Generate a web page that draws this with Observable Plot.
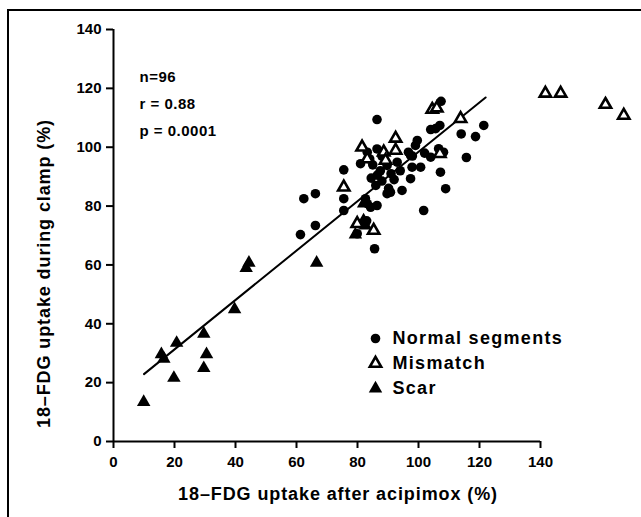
<!DOCTYPE html>
<html>
<head>
<meta charset="utf-8">
<script src="https://cdn.jsdelivr.net/npm/d3@7"></script>
<script src="https://cdn.jsdelivr.net/npm/@observablehq/plot@0.6"></script>
<style>
  html, body { margin: 0; padding: 0; background: #fff; }
  #wrap { position: relative; width: 641px; height: 517px; overflow: hidden; }
  #bt { position: absolute; left: 7px; top: 9px; width: 634px; height: 2px; background: #000; }
  #bl { position: absolute; left: 7px; top: 9px; width: 2px; height: 508px; background: #000; }
</style>
</head>
<body>
<div id="wrap"><div id="chart"></div><div id="bt"></div><div id="bl"></div></div>
<script>
// ---- data ----
const normalX = [107.4,104,105.6,107,86.4,99.6,99,86.4,106.6,108.2,83.2,81,89.7,93,97.4,96.7,97.9,100.7,97.4,104,107.2,108.9,101.7,75.5,75.5,75.5,66.2,62.4,66.2,61.3,84.5,86.5,87.5,90.2,89.7,90.8,94.6,82.6,83.2,86.4,84.3,80.4,79.9,85.6,114,118.7,121.4,115.7,84,88,91,94,86,88,83,98,102,92,85];
const normalY = [115.6,106,106.3,107.4,109.4,102.3,100.6,99.4,99.5,98.3,98.3,94.4,93.8,94.9,97.2,98.3,93.2,93.2,89.3,96.6,91.5,85.9,78.5,92.3,82.5,78.5,84.2,82.5,73.4,70.3,89.5,90.5,92,86,84.2,84.7,85.3,82.5,80.8,80.2,79.6,74,70.6,65.5,104.5,103.6,107.4,96.5,96,97,91,92,87,88.5,75,97,98,89,94];
const mismatchX = [92.5,81.5,92.5,88.6,83.2,89.2,75.5,85.3,79.9,107,104.5,106,113.8,141.6,146.6,161.3,167.3];
const mismatchY = [103,100,98.9,98.3,96,95.5,86.4,71.7,74,97.8,112.8,113.3,109.7,118.3,118.3,114.5,110.8];
const scarX = [9.9,15.7,16.5,20.7,19.8,29.6,30.5,29.6,39.7,44.4,43.5,66.6,82,82,82.6,79.3];
const scarY = [13.4,29.6,28.1,33.5,21.6,36.6,29.6,24.9,44.9,60.7,58.9,60.7,80.8,75.1,73.4,70.3];
const fitX = [10, 122];
const fitY = [22.9, 116.9];
const xTicks = [0,20,40,60,80,100,120,140];
const yTicks = [0,20,40,60,80,100,120,140];
const statsLines = ["n=96", "r = 0.88", "p = 0.0001"];
const legendLabels = ["Normal segments", "Mismatch", "Scar"];
const xLabel = "18\u2013FDG uptake after acipimox (%)";
const yLabel = "18\u2013FDG uptake during clamp (%)";

// ---- build tables ----
const normal = normalX.map((x, i) => ({x, y: normalY[i]}));
const mismatch = mismatchX.map((x, i) => ({x, y: mismatchY[i]}));
const scar = scarX.map((x, i) => ({x, y: scarY[i]}));
const fit = fitX.map((x, i) => ({x, y: fitY[i]}));

const legendStyles = [
  {symbol: "circle", fill: "black", stroke: "none", r: 4.8, strokeWidth: 0},
  {symbol: "triangle", fill: "white", stroke: "black", r: 4.2, strokeWidth: 2.6},
  {symbol: "triangle", fill: "black", stroke: "none", r: 5, strokeWidth: 0}
];

const legendMarks = legendLabels.flatMap((lab, i) => [
  Plot.dot([lab], {frameAnchor: "top-left", dx: 262, dy: 309 + 25 * i, ...legendStyles[i]}),
  Plot.text([lab], {frameAnchor: "top-left", dx: 279, dy: 309 + 25 * i, text: d => d, textAnchor: "start", lineAnchor: "middle", fontSize: 18, fontWeight: "bold"})
]);

const chart = Plot.plot({
  width: 641,
  height: 517,
  marginLeft: 113,
  marginRight: 101,
  marginTop: 29,
  marginBottom: 76,
  style: {fontFamily: "'Liberation Sans', Arial, sans-serif", fontWeight: "bold", fontSize: "15px", color: "black", background: "white", overflow: "visible"},
  x: {domain: [0, 140]},
  y: {domain: [0, 140]},
  marks: [
    Plot.axisX({ticks: xTicks, tickSize: 7, tickPadding: 8, strokeWidth: 2, fontSize: 15, label: null}),
    Plot.axisY({ticks: yTicks, tickSize: 7, tickPadding: 5, strokeWidth: 2, fontSize: 15, label: null}),
    Plot.ruleY([0], {strokeWidth: 2}),
    Plot.ruleX([0], {strokeWidth: 2}),
    Plot.line(fit, {x: "x", y: "y", stroke: "black", strokeWidth: 2}),
    Plot.dot(normal, {x: "x", y: "y", symbol: "circle", r: 4.8, fill: "black"}),
    Plot.dot(scar, {x: "x", y: "y", symbol: "triangle", r: 5, fill: "black"}),
    Plot.dot(mismatch, {x: "x", y: "y", symbol: "triangle", r: 4.2, fill: "white", stroke: "black", strokeWidth: 2.6}),
    Plot.text([statsLines.join("\n")], {frameAnchor: "top-left", dx: 26, dy: 33, text: d => d, textAnchor: "start", lineAnchor: "top", lineHeight: 1.8, fontSize: 15, fontWeight: "bold"}),
    Plot.text([xLabel], {frameAnchor: "bottom", dx: 11, dy: 53, text: d => d, textAnchor: "middle", lineAnchor: "middle", fontSize: 18, fontWeight: "bold"}),
    Plot.text([yLabel], {frameAnchor: "left", dx: -69, dy: 38, rotate: -90, text: d => d, textAnchor: "middle", lineAnchor: "middle", fontSize: 18, fontWeight: "bold"}),
    ...legendMarks
  ]
});

// letter spacing for the wide, scanned-looking type
const spacing = new Map([[xLabel, "0.9"], [yLabel, "0.9"], [legendLabels[0], "1.3"], [legendLabels[1], "1.3"], [legendLabels[2], "1.3"]]);
chart.querySelectorAll("text").forEach(t => {
  const s = spacing.get(t.textContent);
  if (s) t.setAttribute("letter-spacing", s);
});
chart.querySelectorAll("tspan").forEach(t => t.setAttribute("letter-spacing", "0.5"));
document.getElementById("chart").append(chart);
</script>
</body>
</html>
